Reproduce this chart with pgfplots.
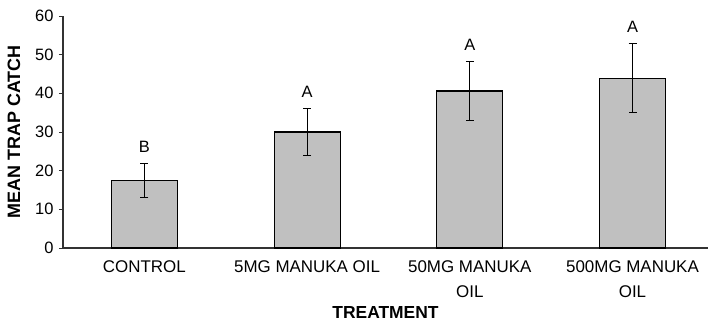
\documentclass[border=0pt]{standalone}
\usepackage{pgfplots}
\pgfplotsset{compat=1.18}
\usepackage{fontspec}
\setmainfont{Liberation Sans}
\definecolor{barfill}{RGB}{192,192,192}
\definecolor{axcol}{RGB}{50,50,50}
\begin{document}
\begin{tikzpicture}
\begin{axis}[
  at={(0,0)}, anchor=south west,
  scale only axis,
  width=645bp, height=232bp,
  xmin=-0.5, xmax=3.464,
  ymin=0, ymax=60,
  axis lines*=left,
  axis line style={axcol, line width=1.1pt},
  tick style={axcol, line width=1pt},
  tick align=outside,
  ytick={0,10,20,30,40,50,60},
  major tick length=4bp,
  xtick={0,1,2,3},
  xticklabels={CONTROL, 5MG MANUKA OIL, 50MG MANUKA\\OIL, 500MG MANUKA\\OIL},
  x tick style={draw=none},
  extra x ticks={0.5,1.5,2.5},
  extra x tick labels={},
  extra x tick style={tick style={axcol, line width=1pt, draw=axcol}, major tick length=4bp},
  xticklabel style={align=center, font=\fontsize{17}{25}\selectfont, yshift=-5bp},
  yticklabel style={font=\fontsize{16.5}{19}\selectfont, xshift=-2bp},
  /pgf/number format/assume math mode=true,
  xlabel={\bfseries TREATMENT},
  ylabel={\bfseries MEAN TRAP CATCH},
  xlabel style={at={(axis description cs:0.5,-0.28)}, anchor=center, font=\fontsize{17.5}{20}\selectfont},
  ylabel style={at={(axis description cs:-0.076,0.5)}, anchor=center, font=\fontsize{18}{20}\selectfont},
  clip=false,
]
\addplot[ybar, bar width=66bp, bar shift=0pt, fill=barfill, draw=black, line width=1.1pt,
  error bars/.cd, y dir=both, y explicit,
  error bar style={black, line width=1.1pt},
  error mark options={rotate=90, mark size=4bp, line width=1.1pt, black}]
  coordinates {
  (0,17.5) +- (0,4.4)
  (1,30.0) +- (0,6.0)
  (2,40.6) +- (0,7.6)
  (3,43.9) +- (0,8.9)
};
\addplot[draw=none, nodes near coords, point meta=explicit symbolic,
  nodes near coords style={anchor=base, yshift=11bp, font=\fontsize{16.5}{19}\selectfont, black}]
  coordinates {
  (0,21.9) [B]
  (1,36.0) [A]
  (2,48.2) [A]
  (3,52.8) [A]
};
\end{axis}
\pgfresetboundingbox
\path[use as bounding box] (-63bp,-77bp) rectangle (645bp,248bp);
\end{tikzpicture}
\end{document}
